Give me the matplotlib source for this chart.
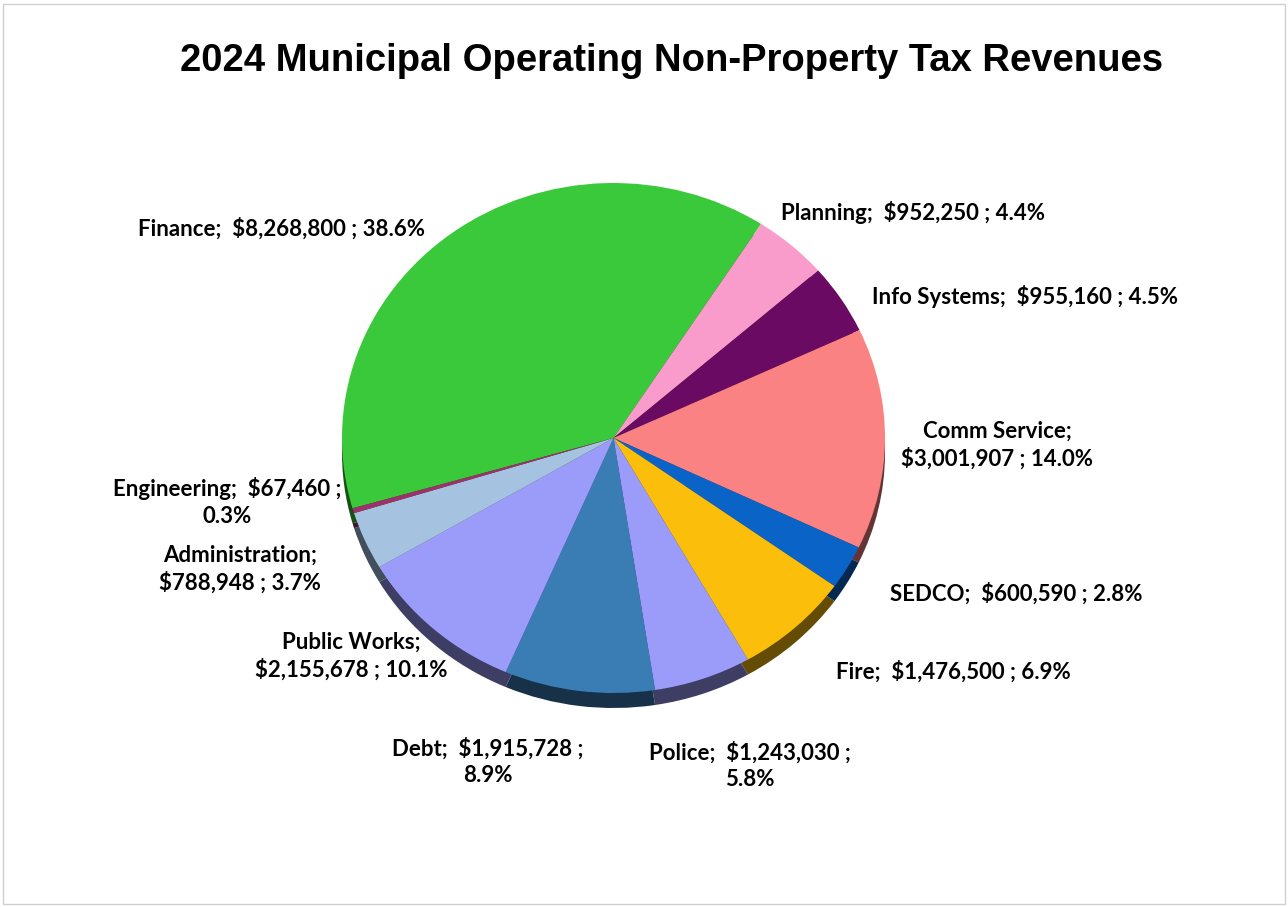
import matplotlib
matplotlib.use("Agg")
from matplotlib import pyplot as plt
from matplotlib.patches import Rectangle
import matplotlib.colors as mcolors

departments = ['Finance', 'Planning', 'Info Systems', 'Comm Service', 'SEDCO', 'Fire',
               'Police', 'Debt', 'Public Works', 'Administration', 'Engineering']
revenues = [8268800, 952250, 955160, 3001907, 600590, 1476500,
            1243030, 1915728, 2155678, 788948, 67460]
colors = ['#3AC93A', '#F99BCB', '#6A0A62', '#FA8282', '#0A64C8', '#FBBE0A',
          '#9B9BFA', '#3A7DB4', '#9B9BFA', '#A5C3E1', '#A0306A']

# where each label breaks onto a second line
breaks = ['none', 'none', 'none', 'name', 'none', 'none',
          'pct', 'pct', 'name', 'name', 'pct']
# label centres in pixels of the 1288x907 canvas
label_px = [(281, 229), (913, 212), (1025, 296), (997, 445), (1016, 594), (953, 672),
            (750, 766), (488, 762), (351, 656), (240, 569), (227, 502)]

W, H = 1288, 907
cx, cy, rx, ry = 613.5, 438, 271.5, 255
depth = 15

fig = plt.figure(figsize=(W / 100, H / 100), dpi=100)
fig.patches.append(Rectangle((3 / W, 3 / H), 1282 / W, 900 / H, transform=fig.transFigure,
                             fill=False, edgecolor='#D0D0D0', linewidth=1))

ax = fig.add_axes([(cx - rx) / W, (H - cy - ry) / H, 2 * rx / W, 2 * ry / H])

dark = [tuple(c * 0.4 for c in mcolors.to_rgb(col)) for col in colors]
side, _ = ax.pie(revenues, colors=dark, startangle=196, counterclock=False,
                 center=(0, -depth / ry), radius=1, frame=True)
for w in side:
    w.set_zorder(1)
top, _ = ax.pie(revenues, colors=colors, startangle=196, counterclock=False,
                center=(0, 0), radius=1, frame=True,
                wedgeprops=dict(edgecolor='none'))
for w in top:
    w.set_zorder(2)

ax.set_aspect('auto')
ax.set_xlim(-1, 1)
ax.set_ylim(-1, 1)
ax.axis('off')

total = sum(revenues)
for name, v, br, (px, py) in zip(departments, revenues, breaks, label_px):
    pct = v / total * 100
    if br == 'name':
        txt = f"{name};\n${v:,} ; {pct:.1f}%"
    elif br == 'pct':
        txt = f"{name};  ${v:,} ;\n{pct:.1f}%"
    else:
        txt = f"{name};  ${v:,} ; {pct:.1f}%"
    ax.text((px - cx) / rx, (cy - py) / ry, txt, ha='center', va='center',
            fontsize=16, fontweight='bold', family='Lato', linespacing=1.3,
            clip_on=False, zorder=5)

fig.text(672 / W, 1 - 61 / H, '2024 Municipal Operating Non-Property Tax Revenues',
         ha='center', va='center', fontsize=27.5, fontweight='bold', family='Liberation Sans')

fig.savefig('out.png', dpi=100)
plt.close()
